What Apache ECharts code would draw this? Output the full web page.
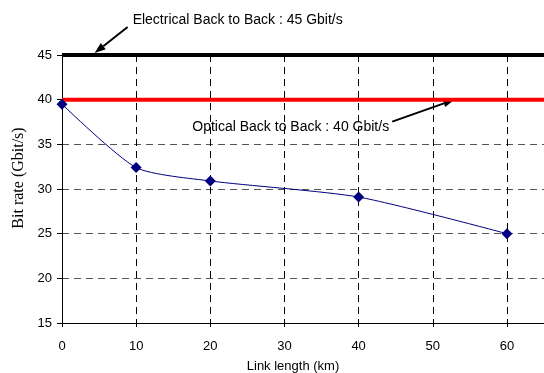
<!DOCTYPE html>
<html>
<head>
<meta charset="utf-8">
<script src="https://cdn.jsdelivr.net/npm/echarts@6/dist/echarts.min.js"></script>
<style>
  html, body { margin: 0; padding: 0; background: #fff; }
  #chart { width: 544px; height: 373px; }
</style>
</head>
<body>
<div id="chart"></div>
<script>
// measured link lengths (km) and bit rates (Gbit/s)
var linkLength = [0, 10, 20, 40, 60];
var bitRate = [39.5, 32.4, 30.9, 29.1, 25.0];
var electricalRate = 45;
var opticalRate = 40;
var xRange = [0, 65];
var yRange = [15, 45];

var electricalLabel = 'Electrical Back to Back : 45 Gbit/s';
var opticalLabel = 'Optical Back to Back : 40 Gbit/s';

var sans = '"Liberation Sans", Arial, sans-serif';

var measured = linkLength.map(function(x, i) { return [x, bitRate[i]]; });

var chart = echarts.init(document.getElementById('chart'), null, { renderer: 'canvas' });

var option = {
    animation: false,
    backgroundColor: '#fff',
    grid: { left: 62, right: 0, top: 55, bottom: 50, outerBoundsMode: 'none', containLabel: false },
    xAxis: {
        type: 'value',
        min: xRange[0],
        max: xRange[1],
        interval: 10,
        name: 'Link length (km)',
        nameLocation: 'middle',
        nameGap: 37,
        nameTextStyle: { fontFamily: sans, fontSize: 13, color: '#000', padding: [0, 20, 0, 0] },
        axisLine: { lineStyle: { color: '#000', width: 1 } },
        axisTick: { length: 4, lineStyle: { color: '#000' } },
        axisLabel: { fontFamily: sans, fontSize: 13, color: '#000', margin: 17, showMaxLabel: false },
        splitLine: { show: true, lineStyle: { color: '#000', type: [7, 5], width: 1 } }
    },
    yAxis: {
        type: 'value',
        min: yRange[0],
        max: yRange[1],
        interval: 5,
        name: 'Bit rate (Gbit/s)',
        nameLocation: 'middle',
        nameGap: 33,
        nameTextStyle: { fontFamily: '"Liberation Serif", "Times New Roman", serif', fontSize: 16, color: '#000', padding: [0, 0, 0, 22] },
        axisLine: { show: true, lineStyle: { color: '#000', width: 1 } },
        axisTick: { show: true, length: 5, lineStyle: { color: '#000' } },
        axisLabel: { fontFamily: sans, fontSize: 13, color: '#000', margin: 10 },
        splitLine: { show: true, lineStyle: { color: '#555', type: [7, 5], width: 1 } }
    },
    series: [
        {
            type: 'line',
            data: measured,
            smooth: 0.22,
            symbol: 'diamond',
            symbolSize: 11,
            itemStyle: { color: '#000080' },
            lineStyle: { color: '#000080', width: 1 }
        },
        {
            type: 'line',
            data: [[xRange[0], opticalRate], [xRange[1], opticalRate]],
            symbol: 'none',
            lineStyle: { color: '#ff0000', width: 4 }
        },
        {
            type: 'line',
            data: [[xRange[0], electricalRate], [xRange[1], electricalRate]],
            symbol: 'none',
            clip: false,
            lineStyle: { color: '#000', width: 4 }
        }
    ]
};

chart.setOption(option);

// arrow annotations, anchored on the reference lines
function arrow(tip, tail) {
    var dx = tip[0] - tail[0], dy = tip[1] - tail[1];
    var len = Math.sqrt(dx * dx + dy * dy);
    var ux = dx / len, uy = dy / len;
    var hl = 11, hw = 4;
    var bx = tip[0] - ux * hl, by = tip[1] - uy * hl;
    return [
        { type: 'line', shape: { x1: tail[0], y1: tail[1], x2: bx, y2: by },
          style: { stroke: '#000', lineWidth: 2 } },
        { type: 'polygon', shape: { points: [tip, [bx - uy * hw, by + ux * hw], [bx + uy * hw, by - ux * hw]] },
          style: { fill: '#000' } }
    ];
}

var eTip = chart.convertToPixel({ gridIndex: 0 }, [4.4, electricalRate]);
var oTip = chart.convertToPixel({ gridIndex: 0 }, [52.9, opticalRate]);
eTip[1] -= 2;

var elements = []
    .concat(arrow(eTip, [eTip[0] + 33, eTip[1] - 26]))
    .concat(arrow(oTip, [oTip[0] - 62, oTip[1] + 22]));

elements.push({
    type: 'text', x: eTip[0] + 38, y: eTip[1] - 33,
    style: { text: electricalLabel, fontFamily: sans, fontSize: 14, fill: '#000', verticalAlign: 'middle' }
});
elements.push({
    type: 'text', x: oTip[0] - 262, y: oTip[1] + 27,
    style: { text: opticalLabel, fontFamily: sans, fontSize: 14, fill: '#000', verticalAlign: 'middle' }
});

chart.setOption({ graphic: { elements: elements } });
</script>
</body>
</html>
